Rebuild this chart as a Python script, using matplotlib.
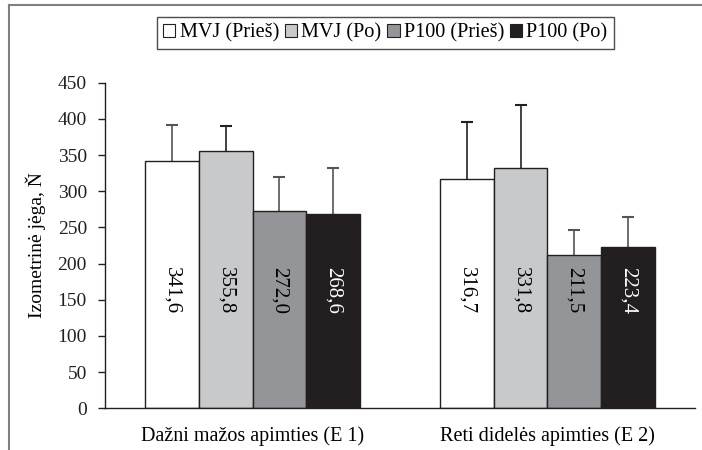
import numpy as np
import matplotlib.pyplot as plt
from matplotlib.lines import Line2D
from matplotlib.patches import Patch

plt.rcParams["font.family"] = ["Liberation Serif", "DejaVu Serif"]
plt.rcParams["font.size"] = 14

categories = ["Dažni mažos apimties (E 1)", "Reti didelės apimties (E 2)"]
series = ["MVJ (Prieš)", "MVJ (Po)", "P100 (Prieš)", "P100 (Po)"]
values = [[341.6, 316.7], [355.8, 331.8], [272.0, 211.5], [268.6, 223.4]]
sd = [[50, 79], [35, 87], [47, 35], [63, 41]]
labels = [["341,6", "316,7"], ["355,8", "331,8"], ["272,0", "211,5"], ["268,6", "223,4"]]
colors = ["#ffffff", "#c8c9cb", "#939598", "#231f20"]
err_colors = [["#555555", "#222222"], ["#222222", "#222222"],
              ["#555555", "#555555"], ["#555555", "#555555"]]
label_y = 163

fig = plt.figure(figsize=(7.02, 4.5), dpi=100)
ax = fig.add_axes([0.1496, 0.0927, 0.8404, 0.7235])

x = np.arange(len(categories))
w = 1 / 5.5
for i, s in enumerate(series):
    pos = x + (i - 1.5) * w
    ax.bar(pos, values[i], width=w, color=colors[i], edgecolor="#231f20",
           linewidth=1.0, label=s, zorder=2)
    for j in range(len(categories)):
        top = values[i][j] + sd[i][j]
        ax.vlines(pos[j], values[i][j], top, color=err_colors[i][j],
                  linewidth=1.2, zorder=1)
        ax.plot([pos[j]], [top], marker="_", markersize=9, markeredgewidth=1.5,
                color=err_colors[i][j], zorder=1)
        ax.text(pos[j], label_y, labels[i][j], rotation=270, ha="center",
                va="center", fontsize=15,
                color="white" if i == 3 else "black", zorder=3)

ax.set_xlim(-0.5, 1.5)
ax.set_ylim(0, 450)
ax.set_yticks(range(0, 451, 50))
ax.set_xticks(x)
ax.set_xticklabels(categories, fontsize=14.5)
ax.tick_params(axis="x", length=0, pad=13)
ax.tick_params(axis="y", direction="out", length=5, width=1, pad=8, colors="#231f20")
for sp in ["top", "right"]:
    ax.spines[sp].set_visible(False)
for sp in ["left", "bottom"]:
    ax.spines[sp].set_color("#231f20")
    ax.spines[sp].set_linewidth(1.0)
ax.set_ylabel("Izometrinė jėga, Ň", fontsize=14)
ax.yaxis.set_label_coords(-0.1, 0.5)

handles = [Patch(facecolor=c, edgecolor="#231f20", linewidth=0.8) for c in colors]
leg = fig.legend(handles, series, loc="upper center", bbox_to_anchor=(0.549, 0.975),
                 ncol=4, frameon=True, fancybox=False, edgecolor="#231f20",
                 handlelength=0.6, handleheight=0.6, handletextpad=0.2,
                 columnspacing=0.3, borderpad=0.3, borderaxespad=0.3, fontsize=14.6)
leg.get_frame().set_linewidth(1.0)

# outer frame lines
fig.add_artist(Line2D([9 / 702, 9 / 702], [0, 1 - 5 / 450], color="#808080", linewidth=1.5))
fig.add_artist(Line2D([9 / 702, 1], [1 - 5 / 450, 1 - 5 / 450], color="#808080", linewidth=1.5))

fig.savefig("out.png", dpi=100)
